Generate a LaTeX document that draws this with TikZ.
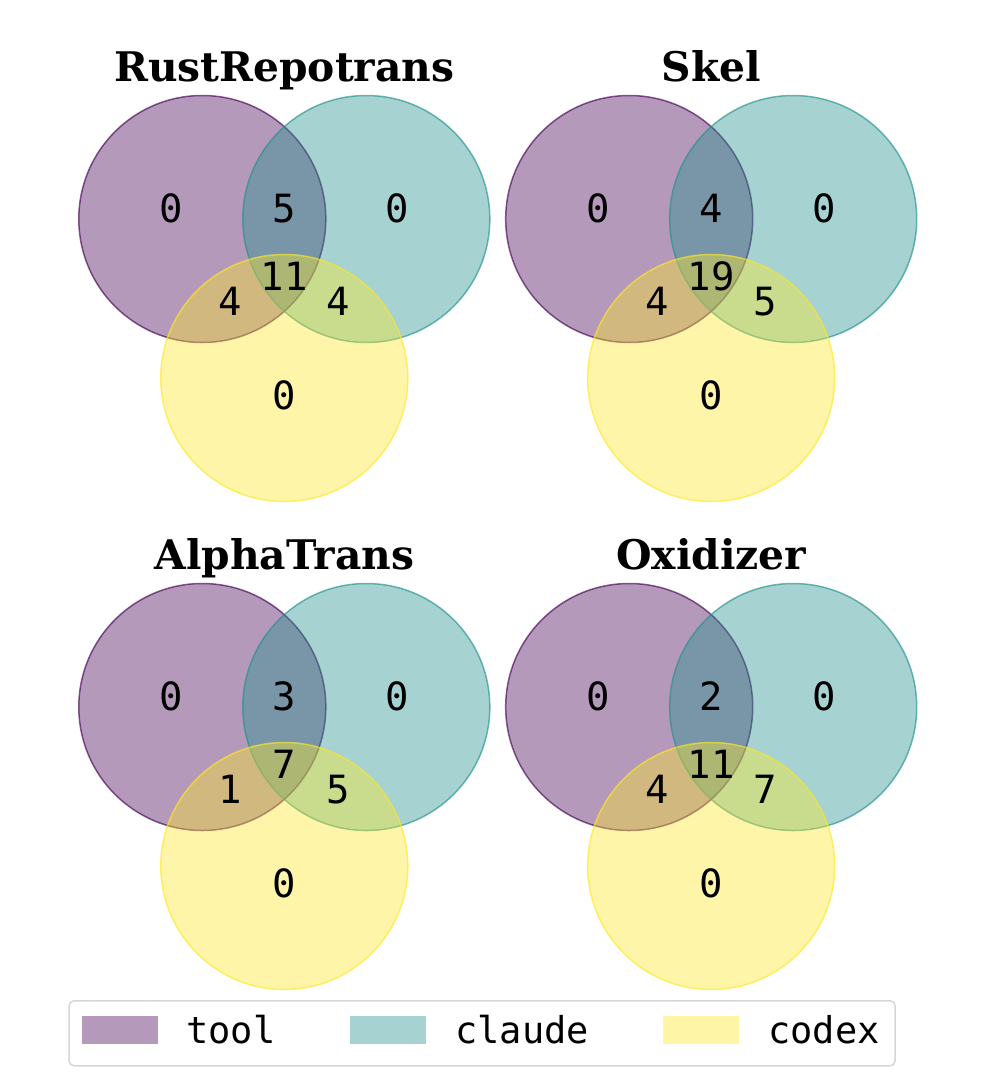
\documentclass[tikz,border=0pt]{standalone}
\usepackage{fontspec}
\newfontfamily\monofont{DejaVu Sans Mono}
\newfontfamily\titlefont{DejaVu Serif}
\definecolor{toolc}{HTML}{440154}
\definecolor{claudec}{HTML}{21918C}
\definecolor{codexc}{HTML}{FDE725}
\definecolor{legframe}{HTML}{D6D6D6}
\tikzset{
  venn/.style={circle, minimum size=247pt, inner sep=0pt, line width=1.5pt, fill opacity=0.4, draw opacity=0.65},
  toolset/.style={venn, fill=toolc, draw=toolc},
  claudeset/.style={venn, fill=claudec, draw=claudec},
  codexset/.style={venn, fill=codexc, draw=codexc},
  num/.style={font=\monofont\fontsize{38.9}{40}\selectfont, anchor=base, inner sep=0pt},
  ttl/.style={font=\titlefont\bfseries\fontsize{40.8}{42}\selectfont, anchor=base, inner sep=0pt},
  legtext/.style={font=\monofont\fontsize{37}{38}\selectfont, anchor=base west, inner sep=0pt},
  legpatch/.style={rectangle, minimum width=76pt, minimum height=27.5pt, inner sep=0pt, fill opacity=0.4, anchor=north west},
  legbox/.style={draw=legframe, line width=1.5pt, rounded corners=5pt, fill=white}
}
\begin{document}
\begin{tikzpicture}[x=1pt,y=-1pt]
\useasboundingbox (0,0) rectangle (996,1079);
\foreach \cx/\cy/\nm/\ttlt/\a/\b/\c/\d/\e/\f/\g in {
  284.3/219/rr/RustRepotrans/0/5/0/11/4/4/0,
  711.2/219/sk/Skel/0/4/0/19/4/5/0,
  284.3/707/al/AlphaTrans/0/3/0/7/1/5/0,
  711.2/707/ox/Oxidizer/0/2/0/11/4/7/0}{
  \node[toolset] (tool\nm) at (\cx-82,\cy) {};
  \node[claudeset] (claude\nm) at (\cx+82,\cy) {};
  \node[codexset] (codex\nm) at (\cx,\cy+159) {};
  \node[ttl] (title\nm) at (\cx,\cy-138) {\ttlt};
  \node[num] (n100\nm) at (\cx-113,\cy+3) {\a};
  \node[num] (n110\nm) at (\cx,\cy+3) {\b};
  \node[num] (n010\nm) at (\cx+113,\cy+3) {\c};
  \node[num] (n111\nm) at (\cx,\cy+71) {\d};
  \node[num] (n101\nm) at (\cx-54,\cy+96) {\e};
  \node[num] (n011\nm) at (\cx+54,\cy+96) {\f};
  \node[num] (n001\nm) at (\cx,\cy+190) {\g};
}
% legend
\node[legbox, rectangle, minimum width=826pt, minimum height=65pt, inner sep=0pt, anchor=north west] (legend) at (68.3,1000) {};
\node[legpatch, fill=toolc] (ptool) at (82,1016) {};
\node[legtext] (ltool) at (186,1043) {tool};
\node[legpatch, fill=claudec] (pclaude) at (350,1016) {};
\node[legtext] (lclaude) at (455,1043) {claude};
\node[legpatch, fill=codexc] (pcodex) at (663,1016) {};
\node[legtext] (lcodex) at (768,1043) {codex};
\end{tikzpicture}
\end{document}
